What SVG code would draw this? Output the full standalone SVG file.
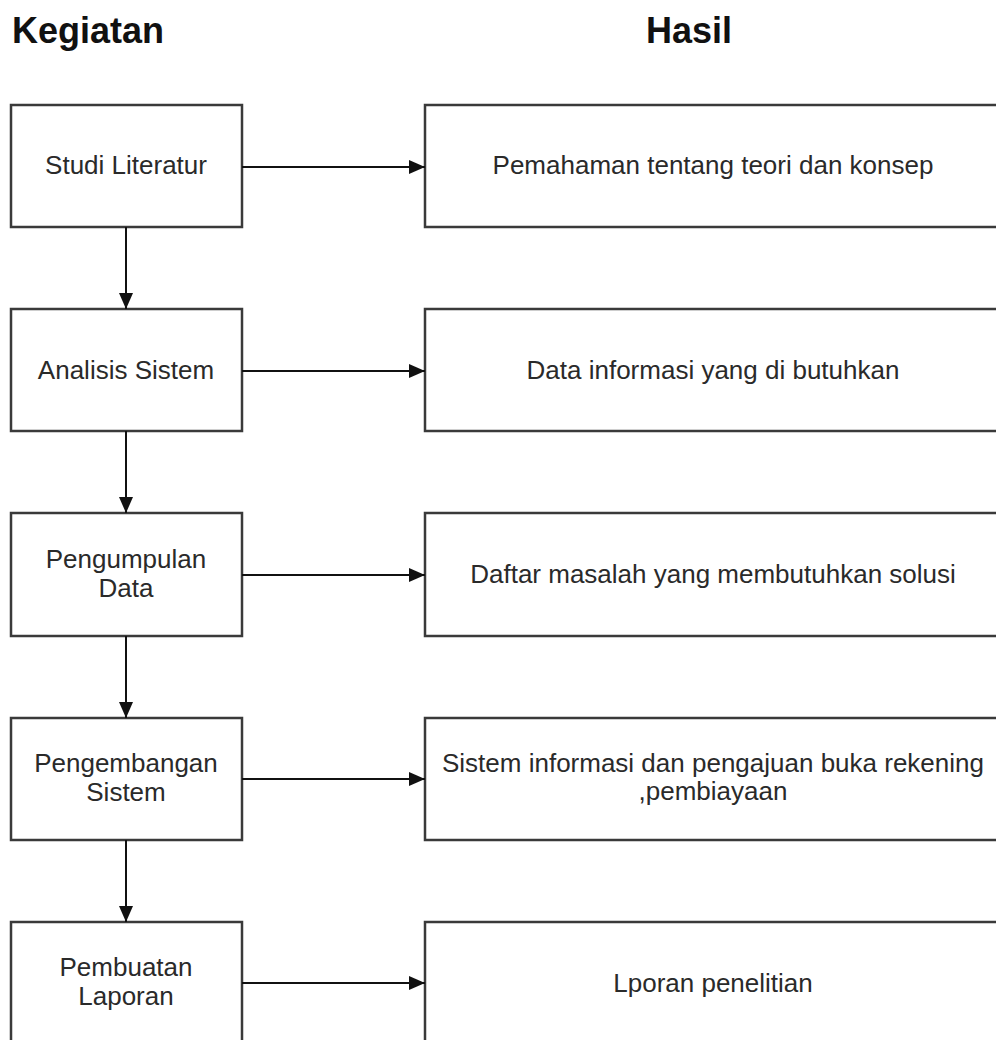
<svg xmlns="http://www.w3.org/2000/svg" width="996" height="1040" viewBox="0 0 996 1040">
<style>
.box{fill:#ffffff;stroke:#3a3a3a;stroke-width:2.5}
.t{font-family:"Liberation Sans",Arial,sans-serif;font-size:26px;fill:#2a2a2a;text-anchor:middle}
.h{font-family:"Liberation Sans",Arial,sans-serif;font-size:36px;font-weight:bold;fill:#111111}
.c{stroke:#111111;stroke-width:2;fill:none;marker-end:url(#ah)}
</style>
<defs>
<marker id="ah" markerWidth="16" markerHeight="14" refX="16" refY="7" orient="auto" markerUnits="userSpaceOnUse">
<path d="M0,0 L16,7 L0,14 Z" fill="#111111"/>
</marker>
</defs>
<rect width="996" height="1040" fill="#ffffff"/>
<text class="h" x="12" y="43">Kegiatan</text>
<text class="h" x="689" y="43" text-anchor="middle">Hasil</text>

<g id="k1"><rect class="box" x="11" y="105" width="231" height="122"/><text class="t" x="126" y="174">Studi Literatur</text></g>
<g id="k2"><rect class="box" x="11" y="309" width="231" height="122"/><text class="t" x="126" y="379">Analisis Sistem</text></g>
<g id="k3"><rect class="box" x="11" y="513" width="231" height="123"/><text class="t" x="126" y="568">Pengumpulan</text><text class="t" x="126" y="597">Data</text></g>
<g id="k4"><rect class="box" x="11" y="718" width="231" height="122"/><text class="t" x="126" y="772">Pengembangan</text><text class="t" x="126" y="801">Sistem</text></g>
<g id="k5"><rect class="box" x="11" y="922" width="231" height="124"/><text class="t" x="126" y="976">Pembuatan</text><text class="t" x="126" y="1005">Laporan</text></g>

<g id="h1"><rect class="box" x="425" y="105" width="580" height="122"/><text class="t" x="713" y="174">Pemahaman tentang teori dan konsep</text></g>
<g id="h2"><rect class="box" x="425" y="309" width="580" height="122"/><text class="t" x="713" y="379">Data informasi yang di butuhkan</text></g>
<g id="h3"><rect class="box" x="425" y="513" width="580" height="123"/><text class="t" x="713" y="583">Daftar masalah yang membutuhkan solusi</text></g>
<g id="h4"><rect class="box" x="425" y="718" width="580" height="122"/><text class="t" x="713" y="772">Sistem informasi dan pengajuan buka rekening</text><text class="t" x="713" y="800">,pembiayaan</text></g>
<g id="h5"><rect class="box" x="425" y="922" width="580" height="124"/><text class="t" x="713" y="992">Lporan penelitian</text></g>

<g id="connectors">
<line class="c" x1="242" y1="167" x2="425" y2="167"/>
<line class="c" x1="242" y1="371" x2="425" y2="371"/>
<line class="c" x1="242" y1="575" x2="425" y2="575"/>
<line class="c" x1="242" y1="779" x2="425" y2="779"/>
<line class="c" x1="242" y1="983" x2="425" y2="983"/>
<line class="c" x1="126" y1="227" x2="126" y2="309"/>
<line class="c" x1="126" y1="431" x2="126" y2="513"/>
<line class="c" x1="126" y1="636" x2="126" y2="718"/>
<line class="c" x1="126" y1="840" x2="126" y2="922"/>
</g>
</svg>
